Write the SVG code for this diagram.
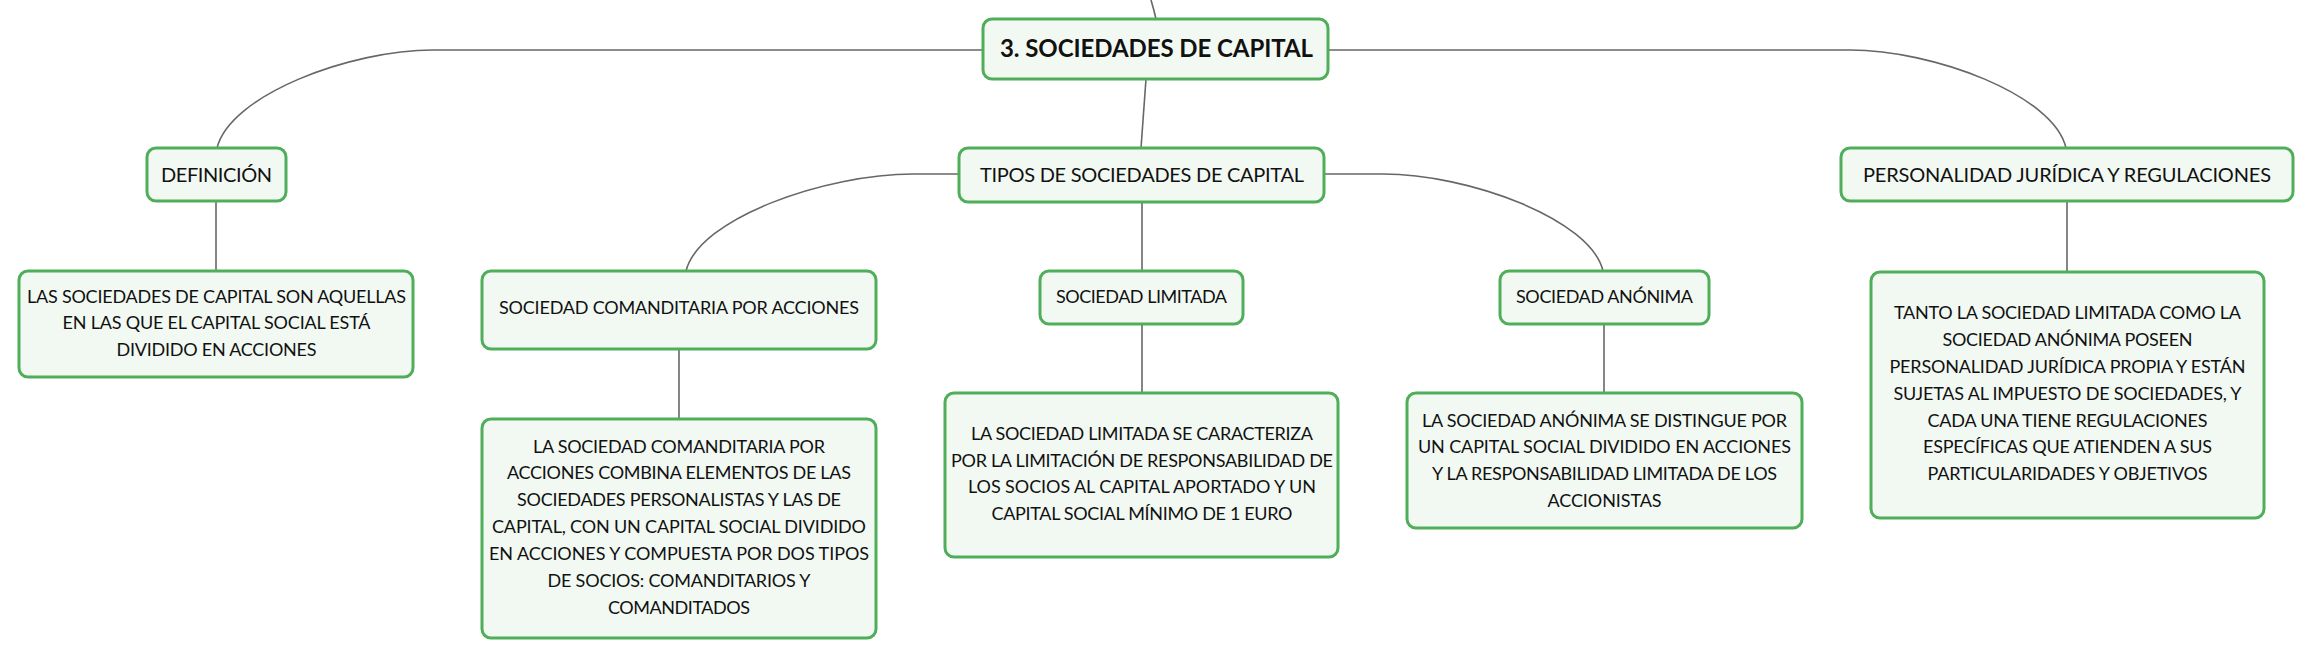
<svg xmlns="http://www.w3.org/2000/svg" width="2314" height="659" viewBox="0 0 2314 659">
<style>
.bg{fill:#ffffff}
.box{fill:#f2f9f3;stroke:#4fae5a;stroke-width:3}
.c{fill:none;stroke:#676767;stroke-width:1.6}
text{font-family:Lato,"Noto Sans","Liberation Sans",sans-serif;fill:#111111;text-anchor:middle}
.t18{font-size:18px}
.t20{font-size:20px}
.root{font-size:24px;font-weight:700}
</style>
<rect class="bg" x="0" y="0" width="2314" height="659"/>
<g id="connectors">
<path class="c" d="M1151,0 Q1154,10 1156,19"/>
<path class="c" d="M1146,79 L1141,148"/>
<path class="c" d="M983,50 H433 C350,50 230,95 217,148"/>
<path class="c" d="M1328,50 H1850 C1933,50 2054,95 2066,148"/>
<path class="c" d="M959,174 H913 C826,174 699,218 686,271"/>
<path class="c" d="M1324,174 H1383 C1468,174 1591,219 1603,271"/>
<path class="c" d="M1142,202 V271"/>
<path class="c" d="M216,201 V271"/>
<path class="c" d="M679,349 V419"/>
<path class="c" d="M1142,324 V393"/>
<path class="c" d="M1604,324 V393"/>
<path class="c" d="M2067,201 V272"/>
</g>
<g id="root">
<rect class="box" x="983" y="19" width="345" height="60" rx="9"/>
<text class="root" x="1156.5" y="57" textLength="313">3. SOCIEDADES DE CAPITAL</text>
</g>
<g id="definicion">
<rect class="box" x="147" y="148" width="139" height="53" rx="9"/>
<text class="t20" x="216.5" y="182" textLength="111">DEFINICIÓN</text>
</g>
<g id="tipos">
<rect class="box" x="959" y="148" width="365" height="54" rx="9"/>
<text class="t20" x="1142" y="182" textLength="324">TIPOS DE SOCIEDADES DE CAPITAL</text>
</g>
<g id="personalidad">
<rect class="box" x="1841" y="148" width="452" height="53" rx="9"/>
<text class="t20" x="2067" y="182" textLength="408">PERSONALIDAD JURÍDICA Y REGULACIONES</text>
</g>
<g id="definicion-texto">
<rect class="box" x="19" y="271" width="394" height="106" rx="9"/>
<text class="t18" x="216.5" y="303" textLength="379">LAS SOCIEDADES DE CAPITAL SON AQUELLAS</text>
<text class="t18" x="216.5" y="329" textLength="308">EN LAS QUE EL CAPITAL SOCIAL ESTÁ</text>
<text class="t18" x="216.5" y="356" textLength="200">DIVIDIDO EN ACCIONES</text>
</g>
<g id="comanditaria">
<rect class="box" x="482" y="271" width="394" height="78" rx="9"/>
<text class="t18" x="679" y="314" textLength="360">SOCIEDAD COMANDITARIA POR ACCIONES</text>
</g>
<g id="limitada">
<rect class="box" x="1040" y="271" width="203" height="53" rx="9"/>
<text class="t18" x="1141.5" y="303" textLength="171">SOCIEDAD LIMITADA</text>
</g>
<g id="anonima">
<rect class="box" x="1500" y="271" width="209" height="53" rx="9"/>
<text class="t18" x="1604.5" y="303" textLength="177">SOCIEDAD ANÓNIMA</text>
</g>
<g id="comanditaria-texto">
<rect class="box" x="482" y="419" width="394" height="219" rx="9"/>
<text class="t18" x="679" y="453" textLength="292">LA SOCIEDAD COMANDITARIA POR</text>
<text class="t18" x="679" y="479" textLength="344">ACCIONES COMBINA ELEMENTOS DE LAS</text>
<text class="t18" x="679" y="506" textLength="324">SOCIEDADES PERSONALISTAS Y LAS DE</text>
<text class="t18" x="679" y="533" textLength="374">CAPITAL, CON UN CAPITAL SOCIAL DIVIDIDO</text>
<text class="t18" x="679" y="560" textLength="380">EN ACCIONES Y COMPUESTA POR DOS TIPOS</text>
<text class="t18" x="679" y="587" textLength="263">DE SOCIOS: COMANDITARIOS Y</text>
<text class="t18" x="679" y="614" textLength="142">COMANDITADOS</text>
</g>
<g id="limitada-texto">
<rect class="box" x="945" y="393" width="393" height="164" rx="9"/>
<text class="t18" x="1142" y="440" textLength="342">LA SOCIEDAD LIMITADA SE CARACTERIZA</text>
<text class="t18" x="1142" y="467" textLength="382">POR LA LIMITACIÓN DE RESPONSABILIDAD DE</text>
<text class="t18" x="1142" y="493" textLength="348">LOS SOCIOS AL CAPITAL APORTADO Y UN</text>
<text class="t18" x="1142" y="520" textLength="301">CAPITAL SOCIAL MÍNIMO DE 1 EURO</text>
</g>
<g id="anonima-texto">
<rect class="box" x="1407" y="393" width="395" height="135" rx="9"/>
<text class="t18" x="1604.5" y="427" textLength="365">LA SOCIEDAD ANÓNIMA SE DISTINGUE POR</text>
<text class="t18" x="1604.5" y="453" textLength="373">UN CAPITAL SOCIAL DIVIDIDO EN ACCIONES</text>
<text class="t18" x="1604.5" y="480" textLength="345">Y LA RESPONSABILIDAD LIMITADA DE LOS</text>
<text class="t18" x="1604.5" y="507" textLength="114">ACCIONISTAS</text>
</g>
<g id="personalidad-texto">
<rect class="box" x="1871" y="272" width="393" height="246" rx="9"/>
<text class="t18" x="2067.5" y="319" textLength="347">TANTO LA SOCIEDAD LIMITADA COMO LA</text>
<text class="t18" x="2067.5" y="346" textLength="250">SOCIEDAD ANÓNIMA POSEEN</text>
<text class="t18" x="2067.5" y="373" textLength="356">PERSONALIDAD JURÍDICA PROPIA Y ESTÁN</text>
<text class="t18" x="2067.5" y="400" textLength="348">SUJETAS AL IMPUESTO DE SOCIEDADES, Y</text>
<text class="t18" x="2067.5" y="427" textLength="280">CADA UNA TIENE REGULACIONES</text>
<text class="t18" x="2067.5" y="453" textLength="289">ESPECÍFICAS QUE ATIENDEN A SUS</text>
<text class="t18" x="2067.5" y="480" textLength="280">PARTICULARIDADES Y OBJETIVOS</text>
</g>
</svg>
